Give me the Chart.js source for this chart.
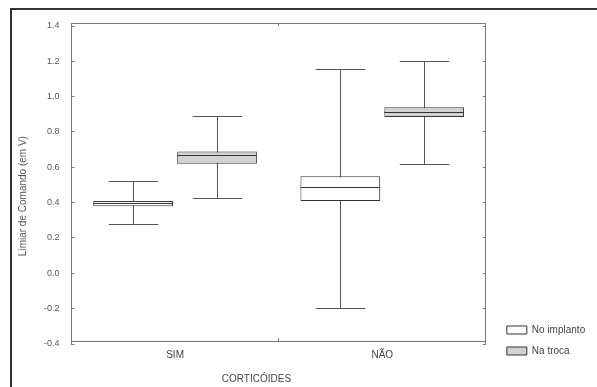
<!DOCTYPE html>
<html>
<head>
<meta charset="utf-8">
<script src="https://cdn.jsdelivr.net/npm/chart.js@4.4.1/dist/chart.umd.min.js"></script>
<style>
  html, body { margin: 0; padding: 0; background: #fff; overflow: hidden; }
  #frame {
    position: absolute; left: 10px; top: 8px; width: 600px; height: 400px;
    border-left: 2px solid #333; border-top: 2px solid #333;
  }
  #wrap { position: absolute; left: 0; top: 0; width: 597px; height: 387px; }
</style>
</head>
<body>
<div id="frame"></div>
<div id="wrap"><canvas id="chart" width="597" height="387"></canvas></div>
<script>
// Categories and series
const categories = ['SIM', 'NÃO'];
const seriesNames = ['No implanto', 'Na troca'];

// Box plot values per series: [SIM, NÃO]
const implantoMin = [0.28, -0.195];
const implantoQ1 = [0.38, 0.41];
const implantoMedian = [0.40, 0.49];
const implantoQ3 = [0.41, 0.55];
const implantoMax = [0.52, 1.155];

const trocaMin = [0.425, 0.62];
const trocaQ1 = [0.62, 0.885];
const trocaMedian = [0.67, 0.915];
const trocaQ3 = [0.69, 0.94];
const trocaMax = [0.89, 1.20];

const yTicks = [-0.4, -0.2, 0.0, 0.2, 0.4, 0.6, 0.8, 1.0, 1.2, 1.4];

const stats = [
    { min: implantoMin, q1: implantoQ1, med: implantoMedian, q3: implantoQ3, max: implantoMax },
    { min: trocaMin, q1: trocaQ1, med: trocaMedian, q3: trocaQ3, max: trocaMax }
];

// Whiskers go under the boxes, medians on top
const boxPlotPlugin = {
    id: 'boxPlot',
    afterLayout(chart) {
        // legend sits a bit higher than the bottom of the canvas
        chart.legend.top -= 25;
        chart.legend.bottom -= 25;
        chart.legend.left -= 2;
        chart.legend.right -= 2;
    },
    beforeDatasetsDraw(chart) {
        const ctx = chart.ctx;
        const y = chart.scales.y;
        ctx.save();
        ctx.strokeStyle = '#555';
        ctx.lineWidth = 1;
        chart.data.datasets.forEach((ds, di) => {
            const meta = chart.getDatasetMeta(di);
            meta.data.forEach((bar, i) => {
                const x = Math.round(bar.x) + 0.5;
                const cap = bar.width * 0.31;
                const yMin = Math.round(y.getPixelForValue(stats[di].min[i])) + 0.5;
                const yMax = Math.round(y.getPixelForValue(stats[di].max[i])) + 0.5;
                ctx.beginPath();
                ctx.moveTo(x, yMin);
                ctx.lineTo(x, yMax);
                ctx.moveTo(x - cap, yMin);
                ctx.lineTo(x + cap, yMin);
                ctx.moveTo(x - cap, yMax);
                ctx.lineTo(x + cap, yMax);
                ctx.stroke();
            });
        });
        ctx.restore();
    },
    afterDatasetsDraw(chart) {
        const ctx = chart.ctx;
        const y = chart.scales.y;
        ctx.save();
        ctx.strokeStyle = '#333';
        ctx.lineWidth = 1;
        chart.data.datasets.forEach((ds, di) => {
            const meta = chart.getDatasetMeta(di);
            meta.data.forEach((bar, i) => {
                const half = bar.width / 2;
                const yMed = Math.round(y.getPixelForValue(stats[di].med[i])) + 0.5;
                ctx.beginPath();
                ctx.moveTo(bar.x - half, yMed);
                ctx.lineTo(bar.x + half, yMed);
                ctx.stroke();
            });
        });
        ctx.restore();
    }
};

const tickFont = { family: 'Liberation Sans, Arial, sans-serif', size: 9 };
const textFont = { family: 'Liberation Sans, Arial, sans-serif', size: 10 };
const edgeGrid = { drawOnChartArea: false, tickLength: -3, color: '#777', offset: true };

new Chart(document.getElementById('chart'), {
    type: 'bar',
    data: {
        labels: categories,
        datasets: [
            {
                label: seriesNames[0],
                data: categories.map((c, i) => [implantoQ1[i], implantoQ3[i]]),
                backgroundColor: '#ffffff',
                borderColor: '#333',
                borderWidth: 1,
                borderSkipped: false,
                categoryPercentage: 0.81,
                barPercentage: 0.95
            },
            {
                label: seriesNames[1],
                data: categories.map((c, i) => [trocaQ1[i], trocaQ3[i]]),
                backgroundColor: '#d2d2d2',
                borderColor: '#333',
                borderWidth: 1,
                borderSkipped: false,
                categoryPercentage: 0.81,
                barPercentage: 0.95
            }
        ]
    },
    options: {
        responsive: false,
        animation: false,
        layout: { padding: { top: 26, left: 12, right: 2, bottom: -5 } },
        plugins: {
            tooltip: { enabled: false },
            legend: {
                position: 'right',
                align: 'end',
                labels: {
                    boxWidth: 20,
                    boxHeight: 8,
                    font: textFont,
                    color: '#444',
                    padding: 11
                }
            }
        },
        scales: {
            x: {
                type: 'category',
                position: 'bottom',
                grid: edgeGrid,
                border: { color: '#777' },
                ticks: { font: textFont, color: '#444', padding: 11 },
                title: { display: true, text: 'CORTICÓIDES                ', font: textFont, color: '#444', padding: { top: 1 } }
            },
            x2: {
                type: 'category',
                position: 'top',
                labels: categories,
                grid: edgeGrid,
                border: { color: '#777' },
                ticks: { display: false }
            },
            y: {
                position: 'left',
                min: -0.4,
                max: 1.4,
                afterBuildTicks(axis) { axis.ticks = yTicks.map(v => ({ value: v })); },
                grid: { drawOnChartArea: false, tickLength: -3, color: '#777' },
                border: { color: '#777' },
                ticks: { font: tickFont, color: '#555', padding: 15, callback: v => v.toFixed(1) },
                title: { display: true, text: 'Limiar de Comando (em V)        ', font: textFont, color: '#555', padding: { top: 5, bottom: 0 } }
            },
            y2: {
                position: 'right',
                min: -0.4,
                max: 1.4,
                afterBuildTicks(axis) { axis.ticks = yTicks.map(v => ({ value: v })); },
                afterFit(axis) { axis.width = 12; },
                grid: { drawOnChartArea: false, tickLength: -3, color: '#777' },
                border: { color: '#777' },
                ticks: { display: false }
            }
        }
    },
    plugins: [boxPlotPlugin]
});
</script>
</body>
</html>
